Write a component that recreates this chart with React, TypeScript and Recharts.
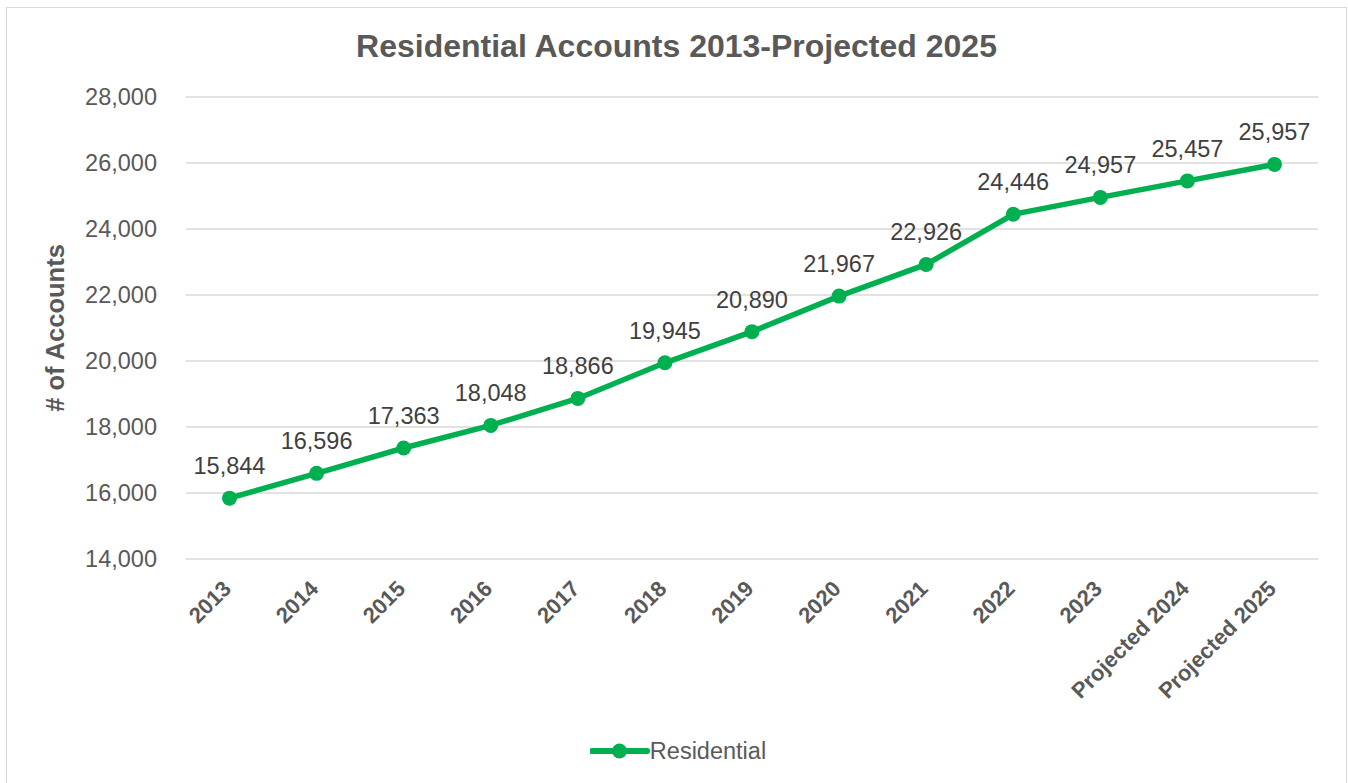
import {
  LineChart,
  Line,
  XAxis,
  YAxis,
  CartesianGrid,
  Legend,
  LabelList,
} from 'recharts';

const years = [
  '2013',
  '2014',
  '2015',
  '2016',
  '2017',
  '2018',
  '2019',
  '2020',
  '2021',
  '2022',
  '2023',
  'Projected 2024',
  'Projected 2025',
];
const residential = [
  15844, 16596, 17363, 18048, 18866, 19945, 20890, 21967, 22926, 24446, 24957,
  25457, 25957,
];
const yTicks = [14000, 16000, 18000, 20000, 22000, 24000, 26000, 28000];

const FONT = '"Liberation Sans", Arial, sans-serif';
const GREEN = '#00B050';

const fmt = (v: number) => v.toLocaleString('en-US');

const XTick = ({ x, y, payload }: any) => (
  <g transform={`translate(${x + 3},${y + 31})`}>
    <text
      transform='rotate(-45)'
      textAnchor='end'
      fill='#595959'
      fontSize={22}
      fontWeight='bold'
      fontFamily={FONT}
    >
      {payload.value}
    </text>
  </g>
);

const LegendBox = () => (
  <div
    style={{
      height: 40,
      display: 'flex',
      alignItems: 'center',
      justifyContent: 'center',
      paddingLeft: 8,
    }}
  >
    <svg width={60} height={20}>
      <line x1={2} y1={10} x2={57} y2={10} stroke={GREEN} strokeWidth={6} strokeLinecap='round' />
      <circle cx={29.5} cy={10} r={7.5} fill={GREEN} />
    </svg>
    <span style={{ fontFamily: FONT, fontSize: 23.5, color: '#595959' }}>Residential</span>
  </div>
);

export default function App() {
  const chartData = years.map((name, i) => ({ name, value: residential[i] }));

  return (
    <div
      style={{
        position: 'absolute',
        left: 0,
        top: 0,
        width: 1348,
        height: 783,
        background: '#fff',
        overflow: 'hidden',
      }}
    >
      <div
        style={{
          position: 'absolute',
          left: 6,
          top: 7,
          width: 1339,
          height: 800,
          border: '1px solid #d9d9d9',
        }}
      />
      <div
        style={{
          position: 'absolute',
          left: 0,
          top: 28,
          width: 1353,
          textAlign: 'center',
          fontFamily: FONT,
          fontSize: 32,
          fontWeight: 'bold',
          color: '#595959',
          lineHeight: '36px',
        }}
      >
        Residential Accounts 2013-Projected 2025
      </div>
      <LineChart
        width={1348}
        height={783}
        data={chartData}
        margin={{ top: 97, right: 30, left: 0, bottom: 0 }}
        style={{ position: 'absolute', left: 0, top: 0 }}
      >
        <CartesianGrid vertical={false} stroke='#d9d9d9' strokeWidth={1.5} />
        <XAxis
          dataKey='name'
          height={184}
          axisLine={false}
          tickLine={false}
          tickSize={0}
          tickMargin={0}
          interval={0}
          padding={{ left: 43.5, right: 43.5 }}
          tick={<XTick />}
        />
        <YAxis
          width={186}
          domain={[14000, 28000]}
          ticks={yTicks}
          axisLine={false}
          tickLine={false}
          tickSize={0}
          tickMargin={29}
          tickFormatter={fmt}
          tick={{ fill: '#595959', fontSize: 23.5, fontFamily: FONT }}
          label={{
            content: () => (
              <text
                x={55}
                y={328}
                transform='rotate(-90 55 328)'
                textAnchor='middle'
                dominantBaseline='central'
                fill='#595959'
                fontSize={25.5}
                fontWeight='bold'
                fontFamily={FONT}
              >
                # of Accounts
              </text>
            ),
          }}
        />
        <Legend
          verticalAlign='bottom'
          height={40}
          content={<LegendBox />}
          wrapperStyle={{ top: 731, left: 0, width: 1348, height: 40 }}
        />
        <Line
          dataKey='value'
          name='Residential'
          stroke={GREEN}
          strokeWidth={5.5}
          dot={{ r: 7.5, fill: GREEN, stroke: 'none' }}
          activeDot={false}
          isAnimationActive={false}
        >
          <LabelList
            dataKey='value'
            position='top'
            offset={24}
            formatter={(v: any) => fmt(Number(v))}
            fill='#404040'
            fontSize={23.5}
            fontFamily={FONT}
          />
        </Line>
      </LineChart>
    </div>
  );
}
